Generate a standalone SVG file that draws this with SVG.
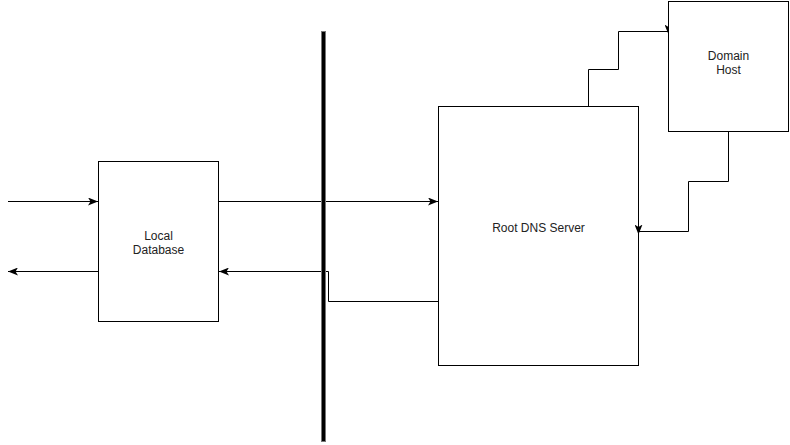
<svg xmlns="http://www.w3.org/2000/svg" width="790" height="445" viewBox="0 0 790 445">
<style>
.box{fill:#fff;stroke:#000;stroke-width:1}
.edge{fill:none;stroke:#000;stroke-width:1}
.lbl{font-family:"Liberation Sans",Arial,sans-serif;font-size:12px;fill:#222;text-anchor:middle}
</style>
<defs>
<marker id="arr" markerUnits="userSpaceOnUse" viewBox="0 0 10 8" markerWidth="10" markerHeight="8" refX="10" refY="4" orient="auto">
<path d="M0,0 L10,4 L0,8 L2.5,4 Z" fill="#000"/>
</marker>
<marker id="arrDown" markerUnits="userSpaceOnUse" viewBox="0 0 10 8" markerWidth="10" markerHeight="8" refX="7" refY="4" orient="90">
<path d="M0,0 L10,4 L0,8 L2.5,4 Z" fill="#000"/>
</marker>
</defs>
<rect width="790" height="445" fill="#fff"/>
<g id="root-dns">
<rect class="box" x="438.5" y="106.5" width="200" height="259"/>
<text class="lbl" x="538.5" y="232">Root DNS Server</text>
</g>
<g id="local-db">
<rect class="box" x="98.5" y="161.5" width="120" height="160"/>
<text class="lbl" x="158.5" y="240">Local</text>
<text class="lbl" x="158.5" y="254">Database</text>
</g>
<g id="connectors">
<path class="edge" d="M8,201.5 L98,201.5" marker-end="url(#arr)"/>
<path class="edge" d="M98,271.5 L8,271.5" marker-end="url(#arr)"/>
<path class="edge" d="M218.5,201.5 L438,201.5" marker-end="url(#arr)"/>
<path class="edge" d="M438.5,301.5 L328.5,301.5 L328.5,271.5 L219,271.5" marker-end="url(#arr)"/>
<path class="edge" d="M588.5,106 L588.5,69.5 L618.5,69.5 L618.5,31.5 L668.5,31.5" marker-end="url(#arrDown)"/>
<path class="edge" d="M728.5,131 L728.5,181.5 L688.5,181.5 L688.5,231.5 L638.5,231.5" marker-end="url(#arrDown)"/>
</g>
<g id="domain-host">
<rect class="box" x="668.5" y="1.5" width="120" height="130"/>
<text class="lbl" x="728.5" y="60">Domain</text>
<text class="lbl" x="728.5" y="74">Host</text>
</g>
<g id="divider">
<rect x="321.5" y="31.5" width="4" height="410" fill="#000" stroke="#777" stroke-width="1"/>
</g>
</svg>
